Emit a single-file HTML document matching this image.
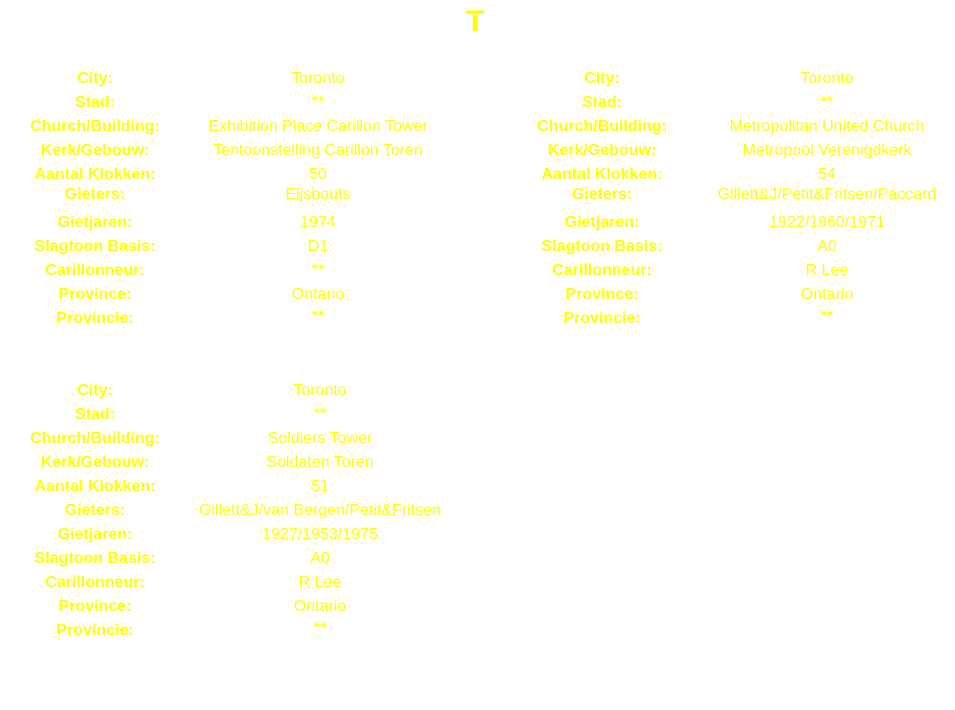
<!DOCTYPE html>
<html><head><meta charset="utf-8"><style>
html,body{margin:0;padding:0;background:#fff;}
body{width:955px;height:710px;position:relative;overflow:hidden;font-family:"Liberation Sans",Arial,sans-serif;color:#ffff00;}
span{position:absolute;white-space:nowrap;transform:translate(-50%,-50%);font-size:16px;line-height:1;}
.l{font-weight:bold;}
.t{font-size:30px;font-weight:bold;}
</style></head><body>
<span class="t" style="left:475px;top:22px">T</span>
<div id="c"></div>
<script>
var blocks=[
 {lx:95,vx:318,ys:[79,103,127,151,175,195,223,247,271,295,319],v:["Toronto","**","Exhibition Place Carillon Tower","Tentoonstelling Carillon Toren","50","Eijsbouts","1974","D1","**","Ontario","**"]},
 {lx:602,vx:827,ys:[79,103,127,151,175,195,223,247,271,295,319],v:["Toronto","**","Metropolitan United Church","Metropool Verenigdkerk","54","Gillett&J/Petit&Fritsen/Paccard","1922/1960/1971","A0","R Lee","Ontario","**"]},
 {lx:95,vx:320,ys:[391,415,439,463,487,511,535,559,583,607,631],v:["Toronto","**","Soldiers Tower","Soldaten Toren","51","Gillett&J/van Bergen/Petit&Fritsen","1927/1953/1975","A0","R Lee","Ontario","**"]}
];
var labels=["City:","Stad:","Church/Building:","Kerk/Gebouw:","Aantal Klokken:","Gieters:","Gietjaren:","Slagtoon Basis:","Carillonneur:","Province:","Provincie:"];
var h="";
blocks.forEach(function(b){for(var i=0;i<11;i++){
 var vy=b.ys[i]+(i==10?-2:0);
 h+='<span class="l" style="left:'+b.lx+'px;top:'+b.ys[i]+'px">'+labels[i]+'</span>';
 h+='<span style="left:'+b.vx+'px;top:'+vy+'px">'+b.v[i].replace(/&/g,"&amp;")+'</span>';
}});
document.getElementById("c").innerHTML=h;
</script>
</body></html>
